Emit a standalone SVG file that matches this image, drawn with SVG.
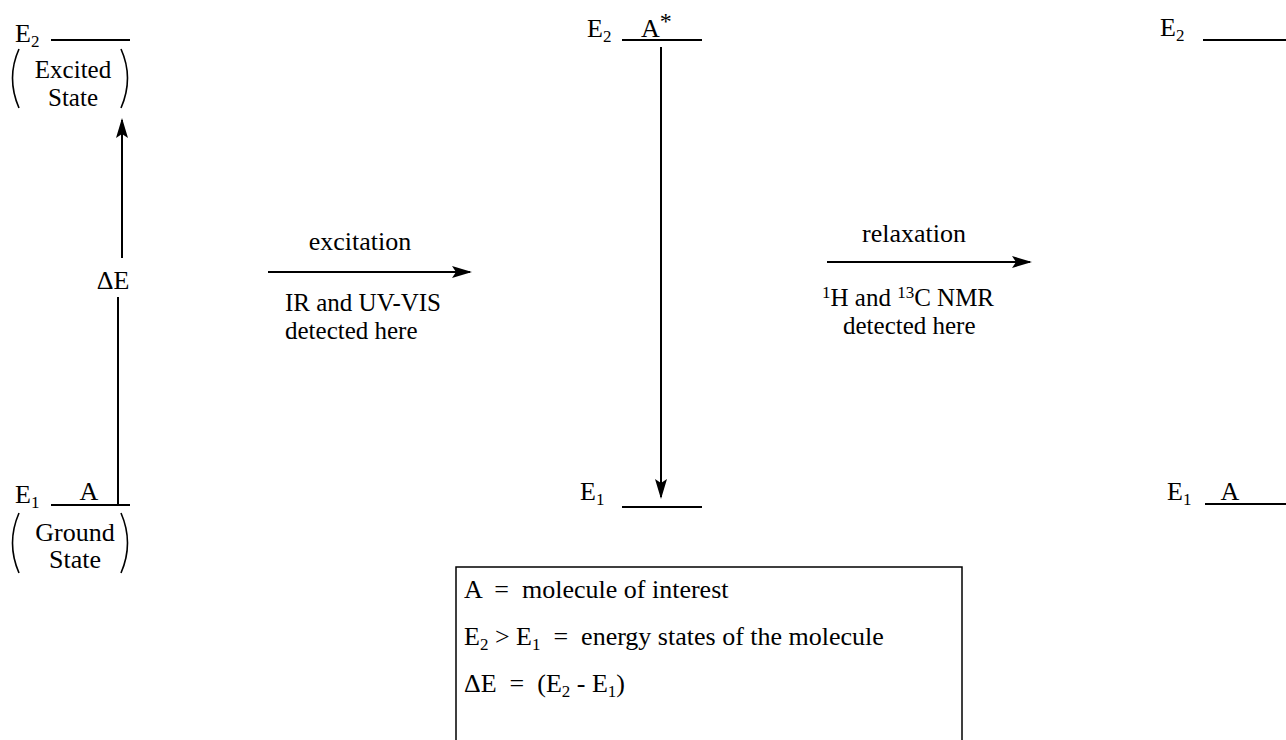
<svg xmlns="http://www.w3.org/2000/svg" width="1286" height="740" viewBox="0 0 1286 740">
<style>
text{font-family:"Liberation Serif","Times New Roman",Times,Tinos,"Nimbus Roman",FreeSerif,"DejaVu Serif","Noto Serif",serif;font-size:26px;fill:#000}
.sub{font-size:17px}
.c{text-anchor:middle}
.two{font-size:25px}
.ln{stroke:#000;stroke-width:2;fill:none}
.par{stroke:#000;stroke-width:1.6;fill:none}
</style>
<defs>
<marker id="ah" markerUnits="userSpaceOnUse" markerWidth="20" markerHeight="12" refX="18" refY="6" orient="auto">
<path d="M0,0 L20,6 L0,12 L4,6 z" fill="#000"/>
</marker>
</defs>
<g id="left-e2">
<text x="15" y="42">E<tspan class="sub" dy="5">2</tspan></text>
<line class="ln" x1="51" y1="40" x2="130" y2="40"/>
<path class="par" d="M19,49 Q6,78 19,108"/>
<path class="par" d="M121,49 Q134,78 121,108"/>
<text class="c two" x="73" y="78">Excited</text>
<text class="c two" x="73" y="106">State</text>
</g>
<g id="left-e1">
<text x="15" y="503">E<tspan class="sub" dy="5">1</tspan></text>
<text class="c" x="89" y="500">A</text>
<line class="ln" x1="51" y1="505" x2="130" y2="505"/>
<path class="par" d="M19,513 Q6,543 19,573"/>
<path class="par" d="M121,513 Q134,543 121,573"/>
<text class="c" x="75" y="541">Ground</text>
<text class="c" x="75" y="568">State</text>
</g>
<g id="mid-e2">
<text x="587" y="37">E<tspan class="sub" dy="5">2</tspan></text>
<text x="641" y="37">A<tspan font-size="24" dy="-8">*</tspan></text>
<line class="ln" x1="622" y1="40" x2="702" y2="40"/>
</g>
<g id="mid-e1">
<text x="580" y="500">E<tspan class="sub" dy="5">1</tspan></text>
<line class="ln" x1="622" y1="507" x2="702" y2="507"/>
</g>
<g id="right-e2">
<text x="1160" y="36">E<tspan class="sub" dy="5">2</tspan></text>
<line class="ln" x1="1203" y1="40" x2="1286" y2="40"/>
</g>
<g id="right-e1">
<text x="1167" y="500">E<tspan class="sub" dy="5">1</tspan></text>
<text class="c" x="1230" y="500">A</text>
<line class="ln" x1="1205" y1="504" x2="1286" y2="504"/>
</g>
<g id="legend">
<rect x="456" y="567" width="506" height="190" fill="none" stroke="#000" stroke-width="1.5"/>
<text x="464" y="598" xml:space="preserve">A  =  molecule of interest</text>
<text x="464" y="645" xml:space="preserve">E<tspan class="sub" dy="5">2</tspan><tspan dy="-5"> &gt; E</tspan><tspan class="sub" dy="5">1</tspan><tspan dy="-5">  =  energy states of the molecule</tspan></text>
<text x="464" y="692" xml:space="preserve">ΔE  =  (E<tspan class="sub" dy="5">2</tspan><tspan dy="-5"> - E</tspan><tspan class="sub" dy="5">1</tspan><tspan dy="-5">)</tspan></text>
</g>
<g id="labels">
<text class="c" x="113" y="289">ΔE</text>
<text class="c" x="360" y="250">excitation</text>
<text class="two" x="285" y="311">IR and UV-VIS</text>
<text class="two" x="285" y="339">detected here</text>
<text class="c" x="914" y="242">relaxation</text>
<text class="two" x="822" y="306"><tspan class="sub" dy="-8">1</tspan><tspan dy="8">H and </tspan><tspan class="sub" dy="-8">13</tspan><tspan dy="8">C NMR</tspan></text>
<text class="two" x="843" y="334">detected here</text>
</g>
<g id="connectors">
<line class="ln" x1="122" y1="258" x2="122" y2="120" marker-end="url(#ah)"/>
<line class="ln" x1="118" y1="297" x2="118" y2="505"/>
<line class="ln" x1="661" y1="47" x2="661" y2="497" marker-end="url(#ah)"/>
<line class="ln" x1="268" y1="272" x2="470" y2="272" marker-end="url(#ah)"/>
<line class="ln" x1="827" y1="262" x2="1030" y2="262" marker-end="url(#ah)"/>
</g>
</svg>
